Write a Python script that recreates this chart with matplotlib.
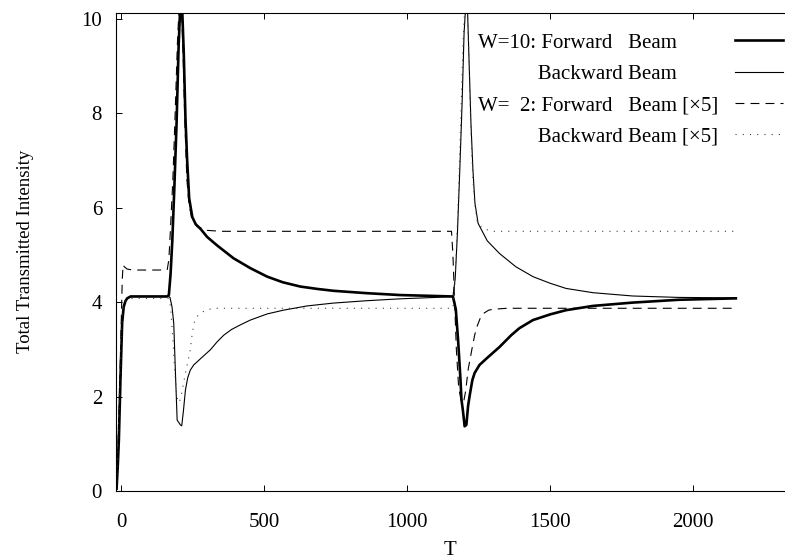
import matplotlib
matplotlib.use("Agg")
import matplotlib.pyplot as plt

# W=10 forward beam (thick solid)
t_fwd10 = [-17, -13, -9, -3.5, 2.5, 8, 14, 20, 32, 160, 166, 172, 178, 185, 193, 200, 206, 212,
           218, 224, 230, 237, 248, 260, 277, 300, 335, 392, 451, 510, 565, 626, 685, 742, 858,
           975, 1100, 1160, 1170, 1178, 1186, 1190, 1195, 1201, 1207, 1213, 1218, 1228, 1236, 1253,
           1280, 1323, 1364, 1393, 1440, 1500, 1556, 1650, 1788, 1950, 2150]
i_fwd10 = [0.05, 0.5, 1.08, 2.35, 3.56, 3.9, 4.02, 4.08, 4.12, 4.12, 4.15, 4.6, 5.3, 6.4, 7.8, 9.4,
           10.3, 10.3, 9.3, 7.9, 7.0, 6.2, 5.8, 5.65, 5.55, 5.38, 5.2, 4.93, 4.72, 4.54, 4.42, 4.33,
           4.28, 4.24, 4.19, 4.15, 4.13, 4.12, 3.85, 3.2, 2.4, 1.93, 1.7, 1.37, 1.4, 1.8, 2.0, 2.35,
           2.5, 2.67, 2.82, 3.05, 3.3, 3.45, 3.62, 3.74, 3.83, 3.92, 3.99, 4.05, 4.08]

# W=10 backward beam (thin solid)
t_bwd10 = [-17, -13, -9, -3.5, 2.5, 8, 14, 20, 32, 165, 170, 177, 183, 189, 195, 201, 206, 211,
           217, 224, 232, 241, 253, 280, 311, 335, 358, 385, 420, 451, 510, 567, 650, 742, 858, 975,
           1100, 1160, 1168, 1176, 1184, 1192, 1199, 1205, 1211, 1217, 1223, 1230, 1237, 1248,
           1280, 1323, 1380, 1440, 1500, 1556, 1650, 1789, 1950, 2150]
i_bwd10 = [0.05, 0.6, 1.2, 2.4, 3.6, 3.92, 4.03, 4.08, 4.12, 4.12, 4.1, 3.9, 3.56, 2.5, 1.5, 1.45,
           1.4, 1.38, 1.7, 2.14, 2.4, 2.56, 2.67, 2.82, 2.99, 3.16, 3.3, 3.42, 3.53, 3.62, 3.75,
           3.83, 3.92, 3.98, 4.03, 4.07, 4.1, 4.12, 4.5, 5.5, 6.8, 8.2, 9.7, 10.3, 10.2, 9.0, 7.8,
           6.8, 6.1, 5.67, 5.3, 5.03, 4.75, 4.54, 4.4, 4.29, 4.2, 4.13, 4.1, 4.09]

# W=2 forward beam x5 (dashed)
t_fwd2 = [-17, -12, -6, -1, 3, 6, 10, 20, 40, 160, 166, 172, 180, 188, 196, 203, 210, 216, 222,
          229, 236, 245, 255, 265, 300, 350, 1155, 1160, 1166, 1172, 1180, 1189, 1197, 1204, 1214,
          1226, 1236, 1244, 1255, 1267, 1285, 1302, 1350, 2150]
i_fwd2 = [0.05, 1.0, 2.2, 3.5, 4.5, 4.79, 4.75, 4.7, 4.68, 4.68, 4.9, 5.6, 6.6, 8.0, 9.5, 10.4,
          10.3, 9.2, 7.8, 6.6, 6.1, 5.8, 5.68, 5.6, 5.52, 5.5, 5.5, 5.0, 4.0, 3.0, 2.2, 1.9, 1.87,
          2.1, 2.6, 2.99, 3.3, 3.48, 3.65, 3.76, 3.83, 3.85, 3.87, 3.87]

# W=2 backward beam x5 (dotted)
t_bwd2 = [-17, -13, -8, -3, 2, 8, 14, 20, 40, 165, 172, 180, 187, 194, 200, 207, 215, 224, 233,
          241, 248, 256, 265, 276, 295, 323, 1160, 1166, 1173, 1181, 1189, 1196, 1203, 1210, 1216,
          1222, 1229, 1236, 1245, 1258, 1275, 1300, 2150]
i_bwd2 = [0.05, 0.8, 1.8, 3.0, 3.7, 3.95, 4.02, 4.06, 4.08, 4.08, 3.9, 3.2, 2.5, 2.0, 1.87, 1.95,
          2.2, 2.5, 2.75, 2.99, 3.35, 3.6, 3.7, 3.76, 3.83, 3.87, 3.87, 4.3, 5.2, 6.6, 8.2, 9.6,
          10.4, 10.3, 9.2, 7.8, 6.7, 6.1, 5.72, 5.6, 5.54, 5.5, 5.5]

# trailing spaces keep the short labels left-aligned with the [x5] ones
labels = ["W=10: Forward   Beam" + " " * 8,
          "           Backward Beam" + " " * 8,
          "W=  2: Forward   Beam [\u00d75]",
          "           Backward Beam [\u00d75]"]

plt.rcParams["font.family"] = ["Liberation Serif", "DejaVu Serif"]
plt.rcParams["font.size"] = 15

fig = plt.figure(figsize=(7.85, 5.59), dpi=100)
ax = fig.add_axes([116 / 785, 1 - 491 / 559, 1 - 116 / 785, (491 - 12.7) / 559])

ax.plot(t_fwd10, i_fwd10, color="black", lw=1.9, label=labels[0])
ax.plot(t_bwd10, i_bwd10, color="black", lw=0.8, label=labels[1])
ax.plot(t_fwd2, i_fwd2, color="black", lw=0.8, dashes=(8, 5.5), label=labels[2])
ax.plot(t_bwd2, i_bwd2, color="0.25", lw=0.8, dashes=(1, 5.5), label=labels[3])

ax.set_xlim(-19, 2322)
ax.set_ylim(0, 10.13)
ax.set_xticks([0, 500, 1000, 1500, 2000])
ax.set_yticks([0, 2, 4, 6, 8, 10])
ax.tick_params(direction="in", length=4, width=0.7, top=True, right=False)
ax.tick_params(axis="x", pad=16)
ax.tick_params(axis="y", pad=10)
ax.spines["right"].set_visible(False)
for s in ["left", "top", "bottom"]:
    ax.spines[s].set_linewidth(0.8)

ax.set_xlabel("T", labelpad=6)
ax.set_ylabel("Total Transmitted Intensity", fontsize=13.5, labelpad=34)

leg = ax.legend(loc="upper right", bbox_to_anchor=(783 / 785, 1 - 33 / 559),
                bbox_transform=fig.transFigure, frameon=False, markerfirst=False,
                handlelength=2.3, handletextpad=0.8, labelspacing=0.56,
                borderpad=0, borderaxespad=0)

fig.savefig("out.png", dpi=100)
